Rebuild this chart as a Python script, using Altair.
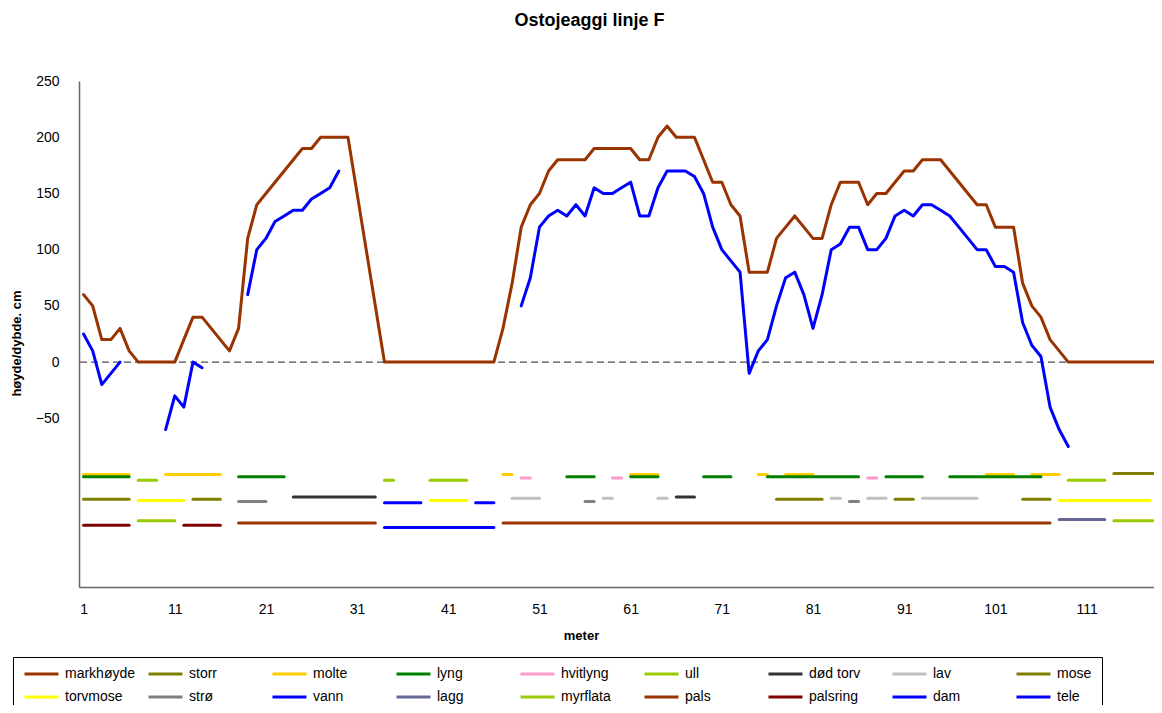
import altair as alt
import pandas as pd

series_names = ["markhøyde", "storr", "molte", "lyng", "hvitlyng", "ull", "død torv", "lav", "mose",
                "torvmose", "strø", "vann", "lagg", "myrflata", "pals", "palsring", "dam", "tele"]
series_colors = ["#993300", "#808000", "#FFCC00", "#008000", "#FF99CC", "#99CC00", "#333333", "#C0C0C0", "#808000",
                 "#FFFF00", "#808080", "#0000FF", "#666699", "#99CC00", "#993300", "#800000", "#0000FF", "#0000FF"]

meters = list(range(1, 122))

markhoyde = [60, 50, 20, 20, 30, 10, 0, 0, 0, 0,
             0, 20, 40, 40, 30, 20, 10, 30, 110, 140,
             150, 160, 170, 180, 190, 190, 200, 200, 200, 200,
             150, 100, 50, 0, 0, 0, 0, 0, 0, 0,
             0, 0, 0, 0, 0, 0, 30, 70, 120, 140,
             150, 170, 180, 180, 180, 180, 190, 190, 190, 190,
             190, 180, 180, 200, 210, 200, 200, 200, 180, 160,
             160, 140, 130, 80, 80, 80, 110, 120, 130, 120,
             110, 110, 140, 160, 160, 160, 140, 150, 150, 160,
             170, 170, 180, 180, 180, 170, 160, 150, 140, 140,
             120, 120, 120, 70, 50, 40, 20, 10, 0, 0,
             0, 0, 0, 0, 0, 0, 0, 0, 0, 0, 0]

N = None
tele = [25, 10, -20, -10, 0, N, N, N, N, -60,
        -30, -40, 0, -5, N, N, N, N, 60, 100,
        110, 125, 130, 135, 135, 145, 150, 155, 170, N,
        N, N, N, N, N, N, N, N, N, N,
        N, N, N, N, N, N, N, N, 50, 75,
        120, 130, 135, 130, 140, 130, 155, 150, 150, 155,
        160, 130, 130, 155, 170, 170, 170, 165, 150, 120,
        100, 90, 80, -10, 10, 20, 50, 75, 80, 60,
        30, 60, 100, 105, 120, 120, 100, 100, 110, 130,
        135, 130, 140, 140, 135, 130, 120, 110, 100, 100,
        85, 85, 80, 35, 15, 5, -40, -60, -75, N,
        N, N, N, N, N, N, N, N, N, N, N]

# vegetation / surface strips: constant level and meter ranges
strip_levels = {"storr": -122, "molte": -100, "lyng": -102, "hvitlyng": -103, "ull": -105,
                "død torv": -120, "lav": -121, "mose": -99, "torvmose": -123, "strø": -124,
                "vann": -147, "lagg": -140, "myrflata": -141, "pals": -143, "palsring": -145, "dam": -125}
storr_ranges = [(1, 6), (13, 16), (77, 82), (90, 92), (104, 107)]
molte_ranges = [(1, 6), (10, 16), (47, 48), (61, 64), (75, 76), (78, 81), (100, 103), (105, 108)]
lyng_ranges = [(1, 6), (18, 23), (54, 57), (61, 64), (69, 72), (76, 86), (89, 93), (96, 106)]
hvitlyng_ranges = [(49, 50), (59, 60), (87, 88)]
ull_ranges = [(7, 9), (34, 35), (39, 43), (109, 113)]
dodtorv_ranges = [(24, 33), (66, 68)]
lav_ranges = [(48, 51), (58, 59), (64, 65), (83, 84), (87, 89), (93, 99)]
mose_ranges = [(114, 121)]
torvmose_ranges = [(7, 12), (39, 43), (108, 118)]
stro_ranges = [(18, 21), (56, 57), (85, 86)]
vann_ranges = [(34, 46)]
lagg_ranges = [(108, 113)]
myrflata_ranges = [(7, 11), (114, 121)]
pals_ranges = [(18, 33), (47, 107)]
palsring_ranges = [(1, 6), (12, 16)]
dam_ranges = [(34, 38), (44, 46), (119, 121)]

strip_ranges = {"storr": storr_ranges, "molte": molte_ranges, "lyng": lyng_ranges,
                "hvitlyng": hvitlyng_ranges, "ull": ull_ranges, "død torv": dodtorv_ranges,
                "lav": lav_ranges, "mose": mose_ranges, "torvmose": torvmose_ranges,
                "strø": stro_ranges, "vann": vann_ranges, "lagg": lagg_ranges,
                "myrflata": myrflata_ranges, "pals": pals_ranges, "palsring": palsring_ranges,
                "dam": dam_ranges}


def runs(values):
    out, cur = [], []
    for m, v in zip(meters, values):
        if v is None:
            if cur:
                out.append(cur)
            cur = []
        else:
            cur.append((m, v))
    if cur:
        out.append(cur)
    return out


rows = []
for idx, name in enumerate(series_names):
    if name == "markhøyde":
        pieces = runs(markhoyde)
    elif name == "tele":
        pieces = runs(tele)
    else:
        lvl = strip_levels[name]
        pieces = [[(a, lvl), (b, lvl)] for a, b in strip_ranges[name]]
    for k, piece in enumerate(pieces):
        for m, v in piece:
            rows.append({"series": name, "seg": f"{idx:02d}_{k:02d}", "meter": m, "value": v})

df = pd.DataFrame(rows)

FONT = "Liberation Sans"

zero_line = alt.Chart(pd.DataFrame({"z": [0]})).mark_rule(
    strokeDash=[7, 4], color="#4d4d4d", strokeWidth=1.3
).encode(y=alt.datum(0))

lines = alt.Chart(df).mark_line(
    strokeWidth=3, strokeCap="round", strokeJoin="round", clip=True
).encode(
    x=alt.X("meter:Q",
            scale=alt.Scale(domain=[0.5, 118.4], nice=False, zero=False),
            axis=alt.Axis(values=list(range(1, 118, 10)), title="meter", labelPadding=15,
                          titleX=502, titleY=48, titleBaseline="middle",
                          labelFlush=False, labelOverlap=False)),
    y=alt.Y("value:Q",
            scale=alt.Scale(domain=[-200, 250], nice=False, zero=False),
            axis=alt.Axis(values=list(range(-200, 251, 50)), title="høyde/dybde. cm",
                          labelExpr="datum.value >= -50 ? datum.label : ''",
                          labelPadding=20, titlePadding=12, titleY=262)),
    color=alt.Color("series:N",
                    scale=alt.Scale(domain=series_names, range=series_colors),
                    legend=alt.Legend(title=None, orient="none", legendX=-66, legendY=576,
                                      direction="horizontal", columns=9, gridAlign="all",
                                      symbolType="stroke", symbolSize=1156, symbolStrokeWidth=3,
                                      clipHeight=14, rowPadding=9, columnPadding=11,
                                      padding=10, strokeColor="#000000", fillColor="white",
                                      labelFont=FONT, labelFontSize=14, labelColor="black",
                                      labelOffset=5, labelLimit=300)),
    detail="seg:N",
)

chart = alt.layer(zero_line, lines).properties(
    width=1075, height=506,
    padding={"left": 71, "top": 73, "right": 0, "bottom": 118},
    autosize=alt.AutoSizeParams(type="none"),
    title=alt.Title("Ostojeaggi linje F", font=FONT, fontSize=18, fontWeight="bold",
                    color="black", anchor="middle", offset=44, dx=-27),
).configure_view(stroke=None).configure_axis(
    labelFont=FONT, labelFontSize=14, labelColor="black",
    titleFont=FONT, titleFontSize=13, titleFontWeight="bold", titleColor="black",
    domainColor="#666666", domainWidth=1.5, ticks=False, grid=False,
)

chart.save("out.html", embed_options={"renderer": "svg", "actions": False})
